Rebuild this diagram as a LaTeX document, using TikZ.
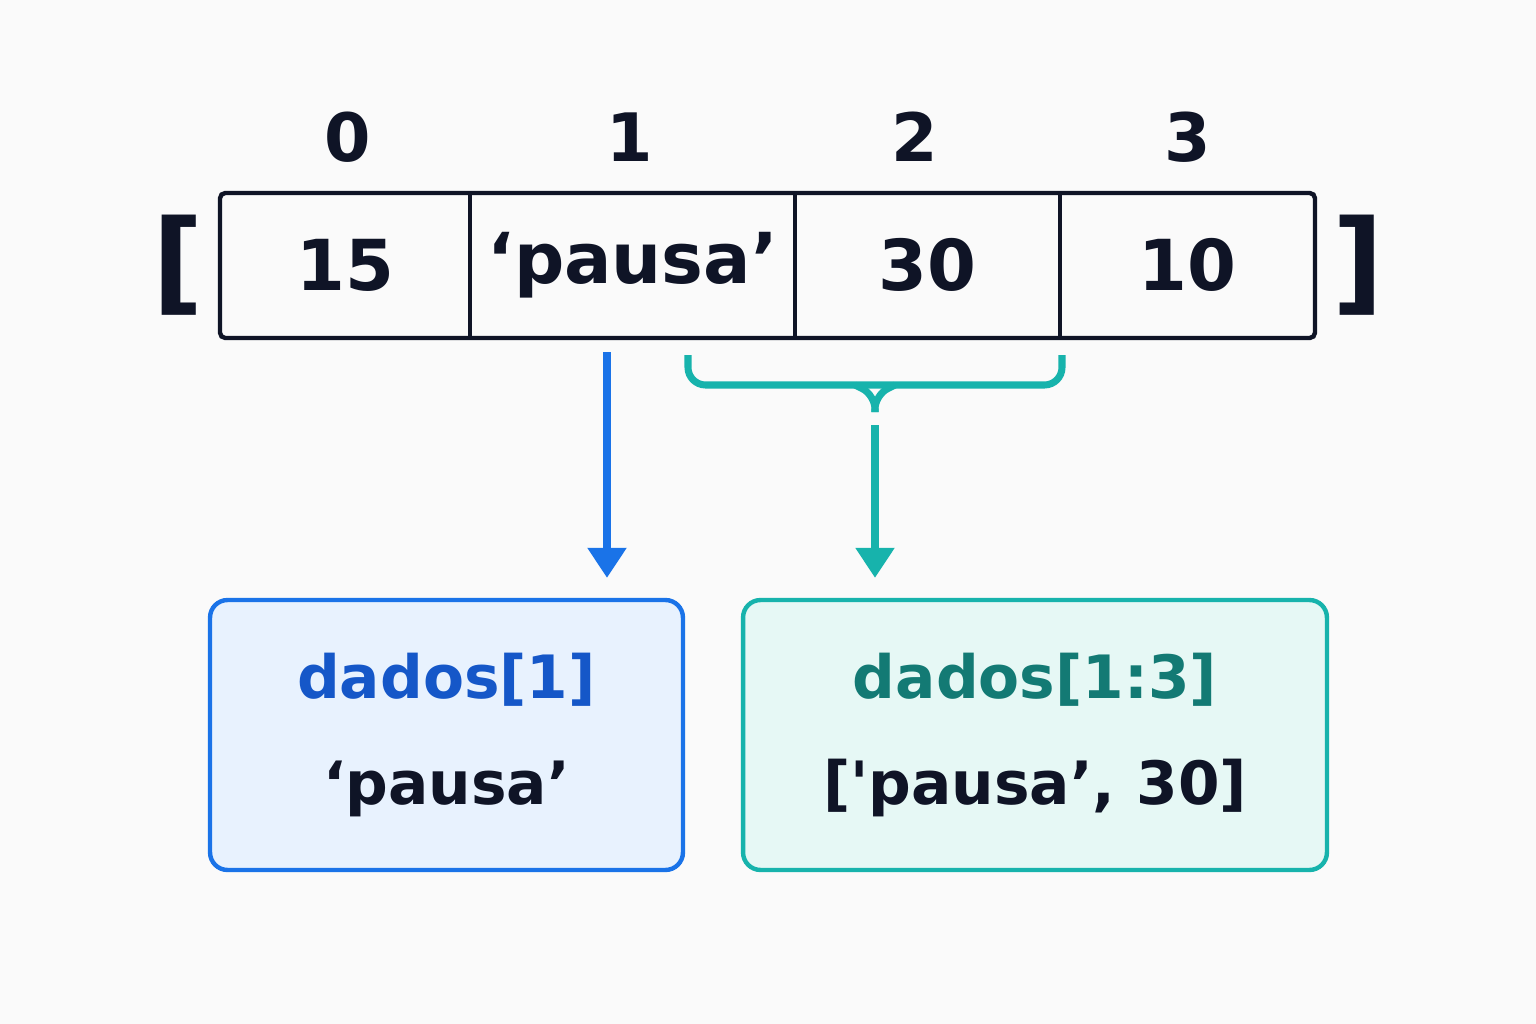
\documentclass[tikz,border=0pt]{standalone}
\usepackage{fontspec}
\setmainfont{DejaVu Sans}
\usetikzlibrary{positioning,arrows.meta}
\definecolor{ink}{HTML}{0F1426}
\definecolor{blu}{HTML}{1A73E8}
\definecolor{blutext}{HTML}{1557C8}
\definecolor{blufill}{HTML}{E8F2FE}
\definecolor{tea}{HTML}{17B3AC}
\definecolor{teatext}{HTML}{137A74}
\definecolor{teafill}{HTML}{E6F8F5}
\begin{document}
\begin{tikzpicture}[x=0.02cm,y=-0.02cm,
cell/.style={minimum height=2.9cm, inner sep=0pt, font=\fontsize{40}{44}\selectfont\bfseries, text=ink},
idx/.style={font=\fontsize{38}{42}\selectfont\bfseries, text=ink},
brk/.style={font=\fontsize{64}{64}\selectfont\bfseries, text=ink},
result/.style={draw, rounded corners=0.35cm, line width=2.5pt, minimum height=5.4cm, align=center, font=\fontsize{34}{60}\selectfont\bfseries},
]
\fill[fill=black!2] (0,0) rectangle (1536,1024);

%Array cells
\node[cell] (c0) at (345,265) {15};
\node[cell] (c1) at (632.5,265) {‘pausa’};
\node[cell] (c2) at (927.5,265) {30};
\node[cell] (c3) at (1187.5,265) {10};
\draw[ink, line width=2.5pt, rounded corners=3pt] (220,193) rectangle (1315,338);
\foreach \x in {470,795,1060}
  \draw[ink, line width=2.5pt] (\x,193) -- (\x,338);

%Brackets
\node[brk] (lb) at (178,265) {[};
\node[brk] (rb) at (1358,265) {]};

%Indices
\node[idx] (i0) at (348,137) {0};
\node[idx] (i1) at (630,137) {1};
\node[idx] (i2) at (915,137) {2};
\node[idx] (i3) at (1188,137) {3};

%Result boxes
\node[result, draw=blu, fill=blufill, minimum width=9.46cm] (r1) at (446.5,735)
  {\textcolor{blutext}{dados[1]}\\ \textcolor{ink}{‘pausa’}};
\node[result, draw=tea, fill=teafill, minimum width=11.68cm] (r2) at (1035,735)
  {\textcolor{teatext}{dados[1:3]}\\ \textcolor{ink}{[\textquotesingle pausa’, 30]}};

%Brace
\coordinate (bl) at (688,355);
\coordinate (br) at (1062,355);
\coordinate (bt) at (875,412);
\draw[tea, line width=4pt, rounded corners=10pt] (bl) -- (688,385) -- (1062,385) -- (br);
\draw[tea, line width=4pt, rounded corners=8pt] (855,385) -- (875,395) -- (bt);
\draw[tea, line width=4pt, rounded corners=8pt] (895,385) -- (875,395) -- (bt);

%Arrows
\coordinate (a1) at (607,352);
\coordinate (a2) at (875,425);
\draw[blu, line width=4pt, shorten >=0.4cm, -{Triangle[length=0.6cm,width=0.75cm]}] (a1) -- (a1 |- r1.north);
\draw[tea, line width=4pt, shorten >=0.4cm, -{Triangle[length=0.6cm,width=0.75cm]}] (a2) -- (a2 |- r2.north);
\end{tikzpicture}
\end{document}
